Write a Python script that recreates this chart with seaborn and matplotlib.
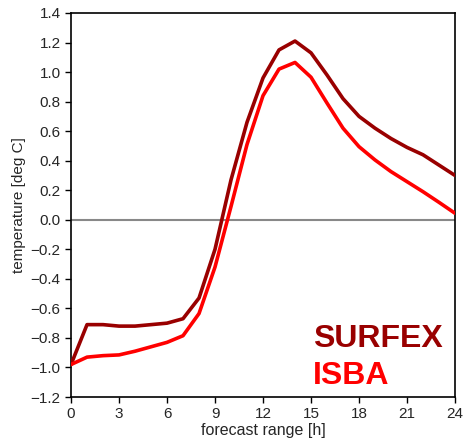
import matplotlib
matplotlib.use("Agg")
from matplotlib import pyplot as plt
import numpy as np
import pandas as pd
import seaborn as sns

# forecast range in hours
hours = list(range(0, 25))

# mean temperature error [deg C]
surfex = [-0.98, -0.71, -0.71, -0.72, -0.72, -0.71, -0.70, -0.67, -0.53, -0.20,
          0.27, 0.66, 0.96, 1.15, 1.21, 1.13, 0.98, 0.82, 0.70, 0.62,
          0.55, 0.49, 0.44, 0.37, 0.30]
isba = [-0.98, -0.93, -0.92, -0.915, -0.89, -0.86, -0.83, -0.785, -0.635, -0.32,
        0.09, 0.51, 0.84, 1.02, 1.065, 0.965, 0.79, 0.62, 0.495, 0.405,
        0.326, 0.258, 0.19, 0.118, 0.044]

series_names = ["SURFEX", "ISBA"]
series_colors = {"SURFEX": "#990000", "ISBA": "#ff0000"}

xticks = list(range(0, 25, 3))
yticks = [-1.2, -1.0, -0.8, -0.6, -0.4, -0.2, 0.0, 0.2, 0.4, 0.6, 0.8, 1.0, 1.2, 1.4]

df = pd.DataFrame({
    "hour": hours * 2,
    "value": surfex + isba,
    "model": ["SURFEX"] * len(hours) + ["ISBA"] * len(hours),
})

sns.set_style("ticks")
plt.rcParams["font.family"] = ["Liberation Sans", "DejaVu Sans"]

fig = plt.figure(figsize=(4.66, 4.40), dpi=100)
ax = fig.add_axes([0.1524, 0.0977, 0.824, 0.8728])

ax.axhline(0, color="#888888", lw=1.5, zorder=1)
sns.lineplot(data=df, x="hour", y="value", hue="model", palette=series_colors,
             hue_order=series_names, lw=2.6, legend=False, ax=ax, zorder=3)

ax.set_xlim(0, 24)
ax.set_ylim(-1.2, 1.4)
ax.set_xticks(xticks)
ax.set_yticks(yticks)
ax.set_yticklabels([f"{v:.1f}".replace("-", "\u2212") for v in yticks])
ax.tick_params(labelsize=11, length=4, width=1, color="black")
for s in ax.spines.values():
    s.set_color("black")
    s.set_linewidth(1.2)

ax.set_xlabel("forecast range [h]", fontsize=11.5, labelpad=1)
ax.set_ylabel("temperature [deg C]", fontsize=11, labelpad=3)

# legend as coloured text
ax.text(0.629, 0.131, "SURFEX", transform=ax.transAxes, color=series_colors["SURFEX"],
        fontsize=23, fontweight="bold", ha="left", va="baseline")
ax.text(0.629, 0.035, "ISBA", transform=ax.transAxes, color=series_colors["ISBA"],
        fontsize=23, fontweight="bold", ha="left", va="baseline")

fig.savefig("out.png", dpi=100)
